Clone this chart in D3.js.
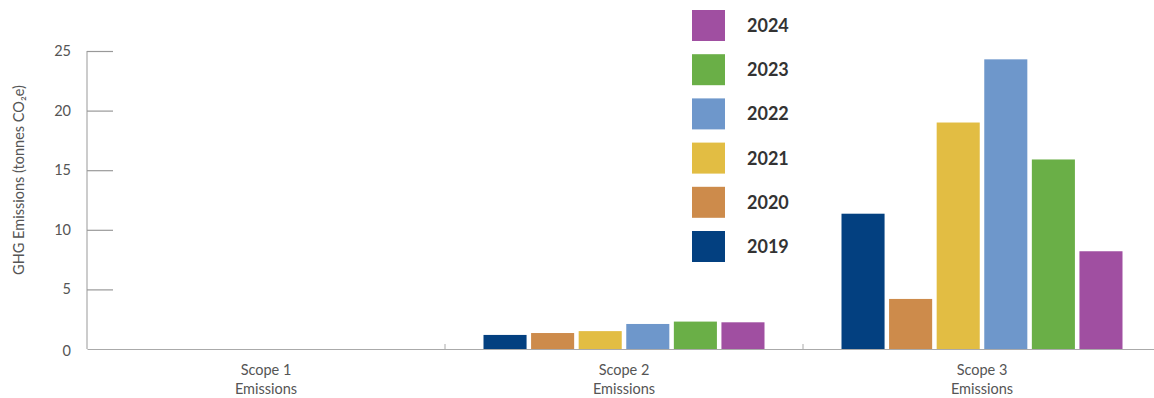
<!DOCTYPE html>
<html><head><meta charset="utf-8">
<script src="https://cdn.jsdelivr.net/npm/d3@7"></script>
<style>body{margin:0;background:#fff;}svg{display:block;font-family:Lato,"Open Sans",sans-serif;}</style>
</head><body><svg id="c" width="1154" height="398"></svg>
<script>
const categories = ["Scope 1\nEmissions", "Scope 2\nEmissions", "Scope 3\nEmissions"];
const years = ["2019", "2020", "2021", "2022", "2023", "2024"];
const v2019 = [0, 1.18, 11.35];
const v2020 = [0, 1.34, 4.2];
const v2021 = [0, 1.5, 19.0];
const v2022 = [0, 2.1, 24.3];
const v2023 = [0, 2.3, 15.9];
const v2024 = [0, 2.24, 8.2];
const yTicks = [0, 5, 10, 15, 20, 25];
const colors = ["#034080", "#CD8B4B", "#E2BD43", "#6E97CB", "#6AAF47", "#A04FA1"];
const series = [v2019, v2020, v2021, v2022, v2023, v2024];

const svg = d3.select("#c");
const x0 = 87, x1 = 1161, yBase = 349, yTop = 51;
const x = d3.scaleBand().domain(categories).range([x0, x1]).paddingInner(0).paddingOuter(0);
const y = d3.scaleLinear().domain([0, 25]).range([yBase, yTop]);
const inner = d3.scaleBand().domain(years).range([0, 281]).paddingInner(0.095);
const groupOffset = (x.bandwidth() - 281) / 2;
const color = d3.scaleOrdinal().domain(years).range(colors);

// y axis
const yAxis = svg.append("g").attr("transform", `translate(${x0},0)`)
  .call(d3.axisRight(y).tickValues(yTicks).tickSize(26).tickFormat(""));
yAxis.select(".domain").attr("stroke", "#999").attr("d", `M0,${yTop}V${yBase}`);
yAxis.selectAll(".tick line").attr("stroke", "#999").attr("stroke-width", 1.2);
yAxis.selectAll(".tick").filter(d => d === 0).remove();
svg.append("g").selectAll("text").data(yTicks).join("text")
  .attr("x", 71).attr("y", d => y(d) + 5 + (d === 0 ? 2 : 0))
  .attr("text-anchor", "end").attr("font-size", 14.5).attr("fill", "#555").text(d => d);

svg.append("text").attr("transform", "translate(24,180) rotate(-90)")
  .attr("text-anchor", "middle").attr("font-size", 14.5).attr("fill", "#555")
  .text("GHG Emissions (tonnes CO₂e)");

// bars
categories.forEach((c, ci) => {
  svg.append("g").selectAll("rect").data(years).join("rect")
    .attr("x", (yr) => x(c) + groupOffset + inner(yr))
    .attr("width", inner.bandwidth())
    .attr("y", (yr, i) => y(series[i][ci]))
    .attr("height", (yr, i) => yBase - y(series[i][ci]))
    .attr("fill", yr => color(yr));
});

// x axis
const xAxis = svg.append("g").attr("transform", `translate(0,${yBase})`)
  .call(d3.axisBottom(x).tickSize(0).tickFormat(""));
xAxis.select(".domain").attr("stroke", "#aaa").attr("stroke-width", 1.2);
svg.append("g").selectAll("line").data(categories.slice(1)).join("line")
  .attr("x1", d => x(d)).attr("x2", d => x(d)).attr("y1", yBase).attr("y2", yBase - 5)
  .attr("stroke", "#aaa");
const lbl = svg.append("g").selectAll("text").data(categories).join("text")
  .attr("x", d => x(d) + x.bandwidth() / 2).attr("y", 375)
  .attr("text-anchor", "middle").attr("font-size", 14.5).attr("fill", "#555");
lbl.each(function(d) {
  const parts = d.split("\n");
  d3.select(this).selectAll("tspan").data(parts).join("tspan")
    .attr("x", x(d) + x.bandwidth() / 2).attr("dy", (p, i) => i === 0 ? 0 : 19).text(p => p);
});

// legend
const legendYears = years.slice().reverse();
const lg = svg.append("g").selectAll("g").data(legendYears).join("g")
  .attr("transform", (d, i) => `translate(692,${10 + i * 44.2})`);
lg.append("rect").attr("width", 33).attr("height", 31).attr("fill", d => color(d));
lg.append("text").attr("x", 55).attr("y", 22).attr("font-size", 18).attr("font-weight", "bold")
  .attr("fill", "#333").text(d => d);
</script></body></html>
